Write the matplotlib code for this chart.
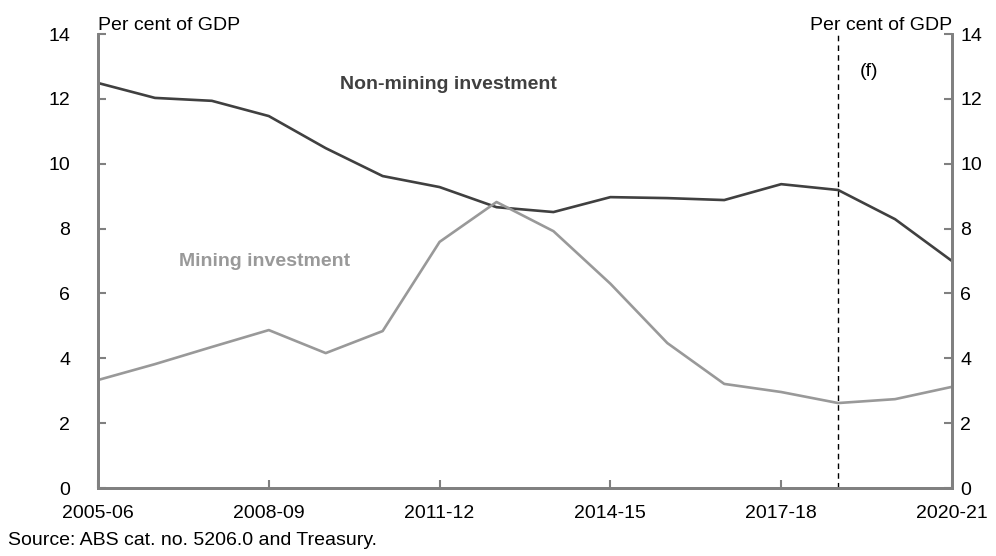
import numpy as np
import matplotlib.pyplot as plt

plt.rcParams['font.family'] = ['Liberation Sans', 'DejaVu Sans']

years = ['2005-06', '2006-07', '2007-08', '2008-09', '2009-10', '2010-11', '2011-12', '2012-13',
         '2013-14', '2014-15', '2015-16', '2016-17', '2017-18', '2018-19', '2019-20', '2020-21']
non_mining = [12.49, 12.03, 11.94, 11.47, 10.48, 9.62, 9.28, 8.66,
              8.51, 8.97, 8.94, 8.88, 9.37, 9.19, 8.29, 7.00]
mining = [3.33, 3.82, 4.35, 4.87, 4.16, 4.84, 7.59, 8.82,
          7.92, 6.30, 4.47, 3.21, 2.96, 2.62, 2.74, 3.12]
tick_years = ['2005-06', '2008-09', '2011-12', '2014-15', '2017-18', '2020-21']
forecast_start = '2018-19'

dark = '#404040'
light = '#999999'
spine = '#808080'
fs = 14

x = np.arange(len(years))

fig = plt.figure(figsize=(9.96, 5.56), dpi=100)
ax = fig.add_axes([0.0984, 0.1223, 0.8574, 0.8165])

ax.plot(x, non_mining, color=dark, linewidth=1.9, solid_joinstyle='round')
ax.plot(x, mining, color=light, linewidth=1.9, solid_joinstyle='round')
ax.axvline(years.index(forecast_start), color='black', linestyle=(0, (4, 3)), linewidth=1)

ax.set_xlim(0, len(years) - 1)
ax.set_ylim(0, 14)
ax.set_yticks(range(0, 15, 2))
ax.set_xticks([years.index(t) for t in tick_years])
ax.set_xticklabels(tick_years)

ax2 = ax.twinx()
ax2.set_ylim(0, 14)
ax2.set_yticks(range(0, 15, 2))

for a in (ax, ax2):
    a.spines['top'].set_visible(False)
    for s in ('left', 'right', 'bottom'):
        a.spines[s].set_color(spine)
        a.spines[s].set_linewidth(2)
    a.tick_params(axis='both', direction='in', length=6, width=1.5, color=spine,
                  labelsize=fs, labelcolor='black')
ax.tick_params(axis='y', pad=20)
ax2.tick_params(axis='y', pad=6)
ax.tick_params(axis='x', pad=12)

ax.text(0, 1.0, 'Per cent of GDP', transform=ax.transAxes, fontsize=fs,
        ha='left', va='bottom')
ax.text(1.0, 1.0, 'Per cent of GDP', transform=ax.transAxes, fontsize=fs,
        ha='right', va='bottom')
ax.text(13.55, 12.85, '(f)', fontsize=fs, ha='center', va='center')

ax.text(6.15, 12.45, 'Non-mining investment', color=dark, fontsize=fs,
        fontweight='bold', ha='center', va='center')
ax.text(2.93, 6.99, 'Mining investment', color=light, fontsize=fs,
        fontweight='bold', ha='center', va='center')

fig.text(0.008, 0.027, 'Source: ABS cat. no. 5206.0 and Treasury.', fontsize=fs,
         ha='left', va='center')

fig.savefig('out.png', dpi=100)
